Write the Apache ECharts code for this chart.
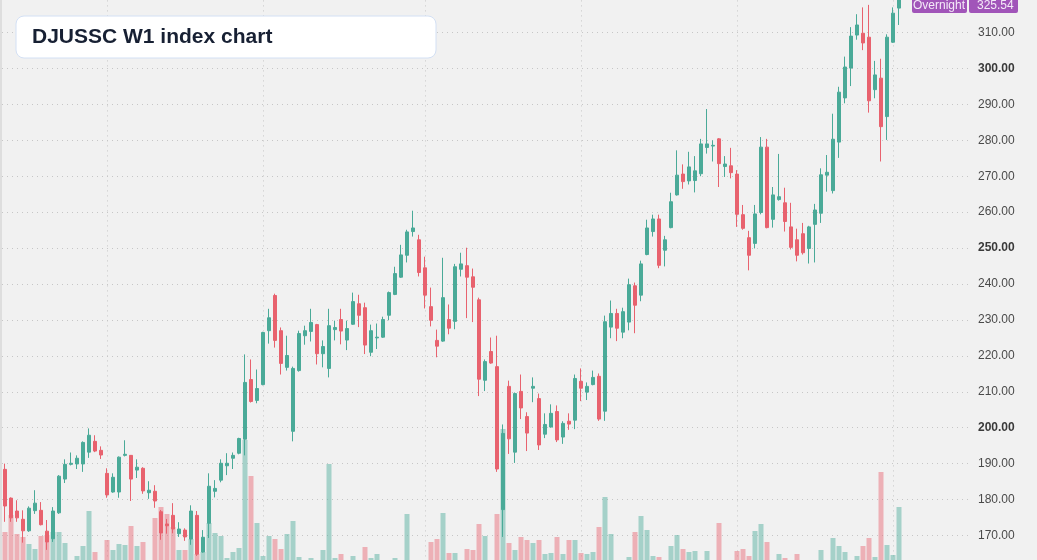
<!DOCTYPE html>
<html>
<head>
<meta charset="utf-8">
<script src="https://cdn.jsdelivr.net/npm/echarts/dist/echarts.min.js"></script>
<style>
	html, body { margin: 0; padding: 0; background: #f1f1f1; }
	#chart { width: 1037px; height: 560px; }
</style>
</head>
<body>
<div id="chart"></div>
<script>
	// weekly OHLC
	var opens = [
		188.4,180.4,176.8,174.5,171.3,176.9,177.0,171.2,169.1,176.3,
		185.7,189.8,189.9,189.9,193.2,196.2,193.7,187.3,182.1,182.1,
		192.3,192.3,188.2,188.7,181.9,182.3,176.6,173.2,175.6,170.5,
		171.5,169.0,175.6,165.4,173.4,182.3,185.4,189.4,191.5,192.9,
		196.8,213.4,207.6,212.0,227.0,236.8,227.0,216.8,199.0,215.9,
		225.6,226.8,228.7,220.6,216.5,227.3,230.1,224.4,228.8,234.5,
		233.4,221.0,225.0,225.2,231.3,237.1,241.9,248.0,254.6,252.3,
		244.5,233.7,224.3,224.1,230.1,229.6,244.1,245.1,242.0,235.6,
		213.2,221.2,217.0,177.2,211.5,193.2,210.1,203.1,211.0,208.1,
		198.2,200.2,204.5,197.4,201.8,202.1,212.9,209.9,212.0,214.3,
		204.6,228.0,231.8,226.6,229.4,239.5,236.9,248.2,254.6,258.1,
		249.4,255.7,264.8,270.6,268.7,268.8,270.7,278.0,278.4,280.4,
		272.7,272.9,270.6,259.3,252.9,251.3,259.9,278.1,258.0,263.5,
		262.6,255.9,252.3,254.0,249.9,256.6,259.7,270.3,266.0,279.5,
		291.8,300.1,309.3,309.8,308.7,294.1,297.3,286.6,307.3,316.8
	];
	var closes = [
		178.2,174.9,174.9,171.3,177.6,179.0,173.0,168.2,176.8,186.5,
		189.8,190.1,191.5,195.9,197.9,193.5,192.4,181.3,186.2,191.8,
		192.6,185.7,189.0,182.4,182.6,179.6,170.7,172.7,171.8,171.8,
		169.6,176.8,164.8,169.5,183.7,183.1,190.1,190.1,192.3,197.0,
		212.6,207.3,210.9,226.5,230.6,224.3,217.9,220.1,216.5,226.2,
		227.0,229.3,220.6,222.6,228.4,227.9,226.9,227.6,235.1,231.3,
		223.0,227.0,225.2,230.1,237.6,242.9,248.1,254.5,255.6,243.2,
		236.9,229.9,222.7,236.2,227.7,244.8,245.6,241.9,239.1,213.5,
		218.4,218.0,188.5,198.4,196.9,209.5,205.5,198.5,211.5,195.2,
		200.9,204.0,196.6,201.2,201.0,213.7,211.0,211.5,214.0,202.4,
		229.5,231.8,227.7,232.3,239.8,234.1,245.6,255.6,258.1,245.2,
		252.3,262.9,270.3,268.5,272.6,271.5,279.0,279.0,278.6,273.5,
		273.4,271.0,259.4,255.5,248.0,259.5,278.1,255.7,264.8,264.3,
		257.4,250.2,248.0,248.7,255.9,260.6,270.4,271.1,280.3,293.4,
		300.4,309.0,312.1,307.1,291.0,298.2,283.8,308.7,315.4,325.54
	];
	var lows = [
		173.8,173.8,173.8,168.0,171.0,176.0,172.8,166.0,168.2,176.0,
		184.6,189.5,188.5,187.7,191.6,193.2,191.3,180.5,181.9,180.5,
		192.0,179.6,186.0,181.6,180.2,177.7,168.8,170.5,170.6,169.6,
		168.5,167.4,164.3,165.2,169.3,180.6,184.8,186.8,188.5,192.6,
		192.3,207.0,206.8,211.8,223.4,222.3,214.8,215.9,196.2,215.6,
		223.1,224.0,217.6,216.8,214.0,224.3,223.2,221.6,228.6,228.0,
		220.5,219.9,221.9,225.0,229.9,236.9,241.7,246.0,253.2,242.1,
		233.2,228.2,219.6,223.9,226.0,227.4,242.1,230.5,229.4,208.8,
		210.2,217.8,187.7,169.6,192.7,190.2,202.4,193.5,207.1,193.8,
		197.1,200.0,196.0,195.5,199.4,199.6,207.4,207.7,211.8,201.9,
		201.9,224.9,224.1,224.9,227.1,226.3,235.2,248.0,253.2,244.4,
		244.9,255.5,264.6,266.5,267.7,265.5,270.0,276.3,274.1,267.0,
		269.8,269.4,255.9,255.1,243.8,249.9,259.4,255.5,255.7,263.2,
		254.6,249.6,246.3,248.2,245.7,246.0,257.0,265.7,265.2,275.1,
		290.3,295.1,308.0,305.1,287.7,291.7,274.1,280.1,307.1,312.1
	];
	var highs = [
		190.0,180.6,179.8,177.0,178.1,182.6,179.3,174.3,177.9,186.8,
		191.2,193.1,192.3,196.2,199.8,197.9,194.8,188.7,187.3,192.0,
		196.5,192.4,191.2,189.0,185.1,184.0,177.1,174.6,179.0,173.7,
		172.0,178.4,176.8,171.5,187.3,185.4,191.2,192.9,193.1,197.2,
		220.4,219.0,216.2,226.7,233.1,237.3,227.9,225.6,217.0,227.0,
		228.4,233.1,228.9,224.3,233.1,229.8,233.1,229.8,237.6,237.0,
		234.8,228.7,229.0,230.9,237.9,244.8,250.9,255.1,260.4,253.7,
		247.6,239.0,227.3,247.3,234.3,245.6,248.7,250.1,244.3,236.2,
		219.0,225.1,225.6,200.9,213.1,209.8,214.8,204.3,214.0,209.5,
		204.0,206.5,206.2,201.8,204.0,214.8,216.5,212.6,215.9,215.1,
		231.2,235.4,233.1,233.4,241.5,240.4,246.5,257.9,259.3,259.3,
		253.4,265.4,277.2,273.3,276.8,275.6,280.4,288.7,280.0,280.6,
		275.6,277.9,271.7,262.0,254.8,262.0,280.9,280.4,267.0,276.2,
		266.8,262.6,255.4,257.0,256.2,262.3,272.2,275.9,287.4,294.9,
		303.3,311.5,315.1,317.0,317.7,302.1,302.7,309.5,317.0,327.0
	];
	var volumes = [
		28,45,26,23,16,11,24,25,28,28,
		17,0,4,14,49,8,0,20,10,16,
		15,34,14,18,0,42,53,46,33,10,
		10,21,6,8,37,27,24,2,8,12,
		120,84,37,4,24,21,11,26,39,3,
		0,2,0,10,96,2,6,0,4,0,
		13,2,6,0,0,2,0,46,0,0,
		0,18,21,47,7,7,0,11,10,36,
		24,0,46,131,17,10,23,20,17,20,
		6,7,23,6,20,20,7,6,8,33,
		63,26,0,0,3,28,44,30,4,3,
		0,14,25,11,8,9,0,9,0,37,
		0,0,9,11,4,29,36,18,0,6,
		2,0,6,0,0,0,10,0,22,14,
		8,0,4,14,22,3,88,15,5,53
	];
	// weeks carrying the dotted vertical guides
	var guideWeeks = [17, 43, 70, 96, 122, 148];
	var emptyWeeks = 11;   // blank space right of the last candle
	var titleText = 'DJUSSC W1 index chart';
	var sessionName = 'Overnight';

	var upColor = '#4aaa98';
	var downColor = '#e8626e';
	var gridColor = '#c6c6c6';
	var fontFam = '"Liberation Sans", Arial, sans-serif';

	var weeks = [];
	for (var i = 0; i < opens.length + emptyWeeks; i++) {
		weeks.push('W' + (i + 1));
	}
	var ohlc = [];
	var vol = [];
	for (var j = 0; j < opens.length; j++) {
		ohlc.push([opens[j], closes[j], lows[j], highs[j]]);
		vol.push({
			value: volumes[j],
			itemStyle: { color: closes[j] >= opens[j] ? upColor : downColor, opacity: 0.45 }
		});
	}
	var lastClose = closes[closes.length - 1];

	var myChart = echarts.init(document.getElementById('chart'));
	var option = {
		animation: false,
		backgroundColor: '#f1f1f1',
		grid: [
			{ left: 2, right: 69, top: -3.4, bottom: -11.4, containLabel: false, outerBoundsMode: 'none' },
			{ left: 2, right: 69, bottom: 0, height: 140, containLabel: false, outerBoundsMode: 'none' }
		],
		xAxis: [
			{
				type: 'category', gridIndex: 0, data: weeks, boundaryGap: true,
				axisLine: { show: false }, axisTick: { show: false }, axisLabel: { show: false },
				splitLine: { show: false }
			},
			{
				type: 'category', gridIndex: 1, data: weeks, boundaryGap: true,
				axisLine: { show: false }, axisTick: { show: false }, axisLabel: { show: false },
				splitLine: { show: false }
			}
		],
		yAxis: [
			{
				type: 'value', gridIndex: 0, position: 'right',
				min: 160, max: 320, interval: 10, scale: true,
				axisLine: { show: false }, axisTick: { show: false },
				splitLine: { show: true, lineStyle: { color: gridColor, type: [1, 4], width: 1 } },
				axisLabel: {
					margin: 10, showMinLabel: false, showMaxLabel: false,
					fontSize: 12, fontFamily: fontFam, color: '#4a4a4a',
					formatter: function (v) {
						var s = v.toFixed(2);
						return v % 50 === 0 ? '{b|' + s + '}' : s;
					},
					rich: { b: { fontWeight: 'bold', fontSize: 12, fontFamily: fontFam, color: '#3a3a3a' } }
				}
			},
			{
				type: 'value', gridIndex: 1, min: 0, max: 140, show: false,
				splitLine: { show: false }
			}
		],
		series: [
			{
				name: 'volume', type: 'bar', xAxisIndex: 1, yAxisIndex: 1,
				barWidth: 5, z: 1, silent: true,
				data: vol
			},
			{
				name: 'DJUSSC', type: 'candlestick', xAxisIndex: 0, yAxisIndex: 0,
				barWidth: 4, z: 3,
				itemStyle: {
					color: upColor, color0: downColor,
					borderColor: upColor, borderColor0: downColor, borderWidth: 1
				},
				data: ohlc,
				markLine: {
					silent: true, symbol: 'none', z: 1,
					label: { show: false },
					lineStyle: { color: gridColor, type: [1, 4], width: 1 },
					data: guideWeeks.map(function (w) { return { xAxis: weeks[w] }; })
				}
			}
		],
		graphic: [
			{ type: 'rect', left: 0, top: 0, shape: { width: 2, height: 560 }, style: { fill: '#dedede' }, z: 10 },
			{
				type: 'rect', shape: { x: 16, y: 16, width: 420, height: 42, r: 8 },
				style: { fill: '#ffffff', stroke: '#d3e0f4', lineWidth: 1 }, z: 10
			},
			{
				type: 'text', x: 32, y: 37, z: 11,
				style: { text: titleText, font: 'bold 21px ' + fontFam, fill: '#172033', verticalAlign: 'middle' }
			},
			{ type: 'rect', shape: { x: 912, y: -4, width: 55, height: 17, r: 2 }, style: { fill: '#a155b9' }, z: 10 },
			{ type: 'rect', shape: { x: 969, y: -4, width: 49, height: 17, r: 2 }, style: { fill: '#a155b9' }, z: 10 },
			{
				type: 'text', x: 913, y: 6, z: 11,
				style: { text: sessionName, font: '12px ' + fontFam, fill: '#f4eaf8', verticalAlign: 'middle' }
			},
			{
				type: 'text', x: 977, y: 6, z: 11,
				style: { text: lastClose.toFixed(2), font: '12px ' + fontFam, fill: '#f4eaf8', verticalAlign: 'middle' }
			}
		]
	};
	myChart.setOption(option);
</script>
</body>
</html>
